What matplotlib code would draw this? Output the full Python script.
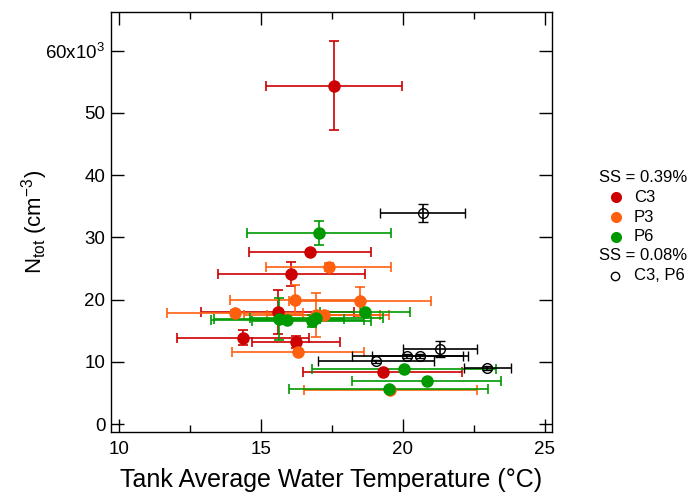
import numpy as np
import matplotlib
matplotlib.use('Agg')
from matplotlib import pyplot as plt
from matplotlib.lines import Line2D
from matplotlib.ticker import MultipleLocator

plt.rcParams['font.family'] = ['Liberation Sans', 'DejaVu Sans']
plt.rcParams['mathtext.default'] = 'regular'

# %% data (N_tot in units of 10^3 cm^-3)
c3_x = [17.58, 16.73, 16.07, 15.58, 14.35, 16.23, 19.28]
c3_y = [54.4, 27.7, 24.1, 18.0, 13.9, 13.2, 8.3]
c3_xerr = [2.4, 2.15, 2.6, 2.7, 2.33, 1.55, 2.8]
c3_yerr = [7.1, 0.3, 1.9, 3.6, 1.2, 1.0, 0.3]

p3_x = [17.38, 16.2, 18.48, 14.08, 16.95, 17.2, 16.31, 19.55]
p3_y = [25.2, 19.9, 19.7, 17.8, 17.5, 17.6, 11.55, 5.45]
p3_xerr = [2.2, 2.3, 2.5, 2.4, 2.55, 2.0, 2.33, 3.05]
p3_yerr = [0.6, 2.4, 2.3, 0.5, 3.5, 0.5, 0.5, 0.3]

p6_x = [17.04, 15.63, 15.93, 16.78, 16.95, 18.66, 20.04, 20.83, 19.5]
p6_y = [30.66, 16.9, 16.7, 16.6, 17.0, 18.05, 8.85, 6.95, 5.6]
p6_xerr = [2.55, 2.3, 2.7, 2.1, 2.35, 1.6, 3.25, 2.64, 3.5]
p6_yerr = [1.9, 3.35, 0.4, 1.0, 0.8, 0.5, 0.3, 0.3, 0.3]

low_x = [20.69, 21.3, 20.15, 20.6, 19.05, 22.97]
low_y = [33.9, 12.0, 10.9, 10.9, 10.05, 9.05]
low_xerr = [1.5, 1.3, 1.95, 1.7, 2.05, 0.82]
low_yerr = [1.45, 1.3, 0.3, 0.3, 0.3, 0.3]

y_ticks = [0, 10, 20, 30, 40, 50, 60]
y_ticklabels = ['0', '10', '20', '30', '40', '50', r'60x10$^{3}$']
x_ticks = [10, 15, 20, 25]

red = '#CC0000'
orange = '#FF6010'
green = '#009A00'

# %% plot
fig = plt.figure(figsize=(6.91, 4.97), dpi=100)
ax = fig.add_axes([0.1606, 0.1302, 0.6378, 0.8463])

style = dict(fmt='o', ms=8, elinewidth=1.2, capsize=3.6, capthick=1.2)
ax.errorbar(c3_x, c3_y, xerr=c3_xerr, yerr=c3_yerr, color=red, **style)
ax.errorbar(p3_x, p3_y, xerr=p3_xerr, yerr=p3_yerr, color=orange, **style)
ax.errorbar(p6_x, p6_y, xerr=p6_xerr, yerr=p6_yerr, color=green, **style)
ax.errorbar(low_x, low_y, xerr=low_xerr, yerr=low_yerr, fmt='o', ms=7,
            mfc='none', mec='k', mew=1.0, color='k', elinewidth=1.2,
            capsize=3.6, capthick=1.2)

ax.set_xlim(9.71, 25.24)
ax.set_ylim(-1.33, 66.27)
ax.set_xticks(x_ticks)
ax.xaxis.set_minor_locator(MultipleLocator(2.5))
ax.set_yticks(y_ticks)
ax.set_yticklabels(y_ticklabels)
ax.tick_params(which='both', direction='in', top=True, right=True, width=1.0)
ax.tick_params(which='major', length=9.4, labelsize=13.5)
ax.tick_params(which='minor', length=5)
ax.tick_params(axis='x', pad=6)
ax.tick_params(axis='y', pad=4)
for s in ax.spines.values():
    s.set_linewidth(1.0)

ax.set_xlabel(u'Tank Average Water Temperature (°C)', fontsize=18)
ax.xaxis.set_label_coords(0.5, -0.085)
ax.set_ylabel(r'N$_{tot}$ (cm$^{-3}$)', fontsize=16)
ax.yaxis.set_label_coords(-0.138, 0.5)

# %% legend
W, H = 691., 497.
def fx(px):
    return px / W
def fy(py):
    return 1 - py / H

fig.text(fx(599), fy(177), 'SS = 0.39%', fontsize=12, va='center')
fig.text(fx(599), fy(256), 'SS = 0.08%', fontsize=12, va='center')
for yy, c, lab in [(197, red, 'C3'), (217, orange, 'P3'), (236.5, green, 'P6')]:
    fig.add_artist(Line2D([fx(616)], [fy(yy)], transform=fig.transFigure,
                          marker='o', ms=8, color=c, mew=0))
    fig.text(fx(634), fy(yy), lab, fontsize=12, va='center')
fig.add_artist(Line2D([fx(615)], [fy(275.5)], transform=fig.transFigure,
                      marker='o', ms=6, mfc='none', mec='k', mew=1.0))
fig.text(fx(634), fy(275.5), 'C3, P6', fontsize=12, va='center')

fig.savefig('out.png', dpi=100)
